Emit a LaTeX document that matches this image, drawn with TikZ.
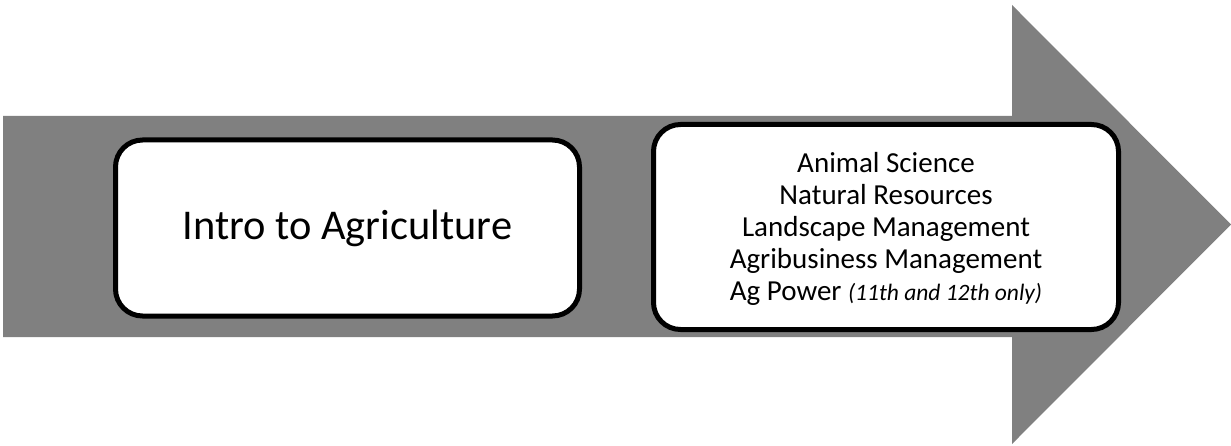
\documentclass[tikz,border=0pt]{standalone}
\usepackage{fontspec}
\setmainfont{Carlito}
\definecolor{arrowgray}{RGB}{128,128,128}
\begin{document}
\begin{tikzpicture}[x=1pt,y=-1pt,
  stagebox/.style={draw=black, fill=white, line width=5pt, rounded corners=27pt,
    inner sep=0pt, align=center, text=black}]
  \useasboundingbox (0,0) rectangle (1231,446);
  % big block arrow
  \fill[arrowgray] (3,116) -- (1012,116) -- (1012,5) -- (1231,224.5)
    -- (1012,444) -- (1012,337) -- (3,337) -- cycle;
  % first stage
  \node[stagebox, minimum width=464pt, minimum height=176pt,
    font=\fontsize{42.4}{50}\selectfont] (intro) at (347.5,228) {Intro to Agriculture};
  % second stage
  \node[stagebox, minimum width=465pt, minimum height=205pt,
    font=\fontsize{29}{32}\selectfont] (paths) at (886,227) {};
  \node[align=center, inner sep=0pt, font=\fontsize{29}{32}\selectfont]
    (pathlist) at (886,229)
    {Animal Science\\Natural Resources\\Landscape Management\\Agribusiness Management\\
     Ag Power {\fontsize{23.5}{32}\selectfont\itshape(11th and 12th only)}};
\end{tikzpicture}
\end{document}
